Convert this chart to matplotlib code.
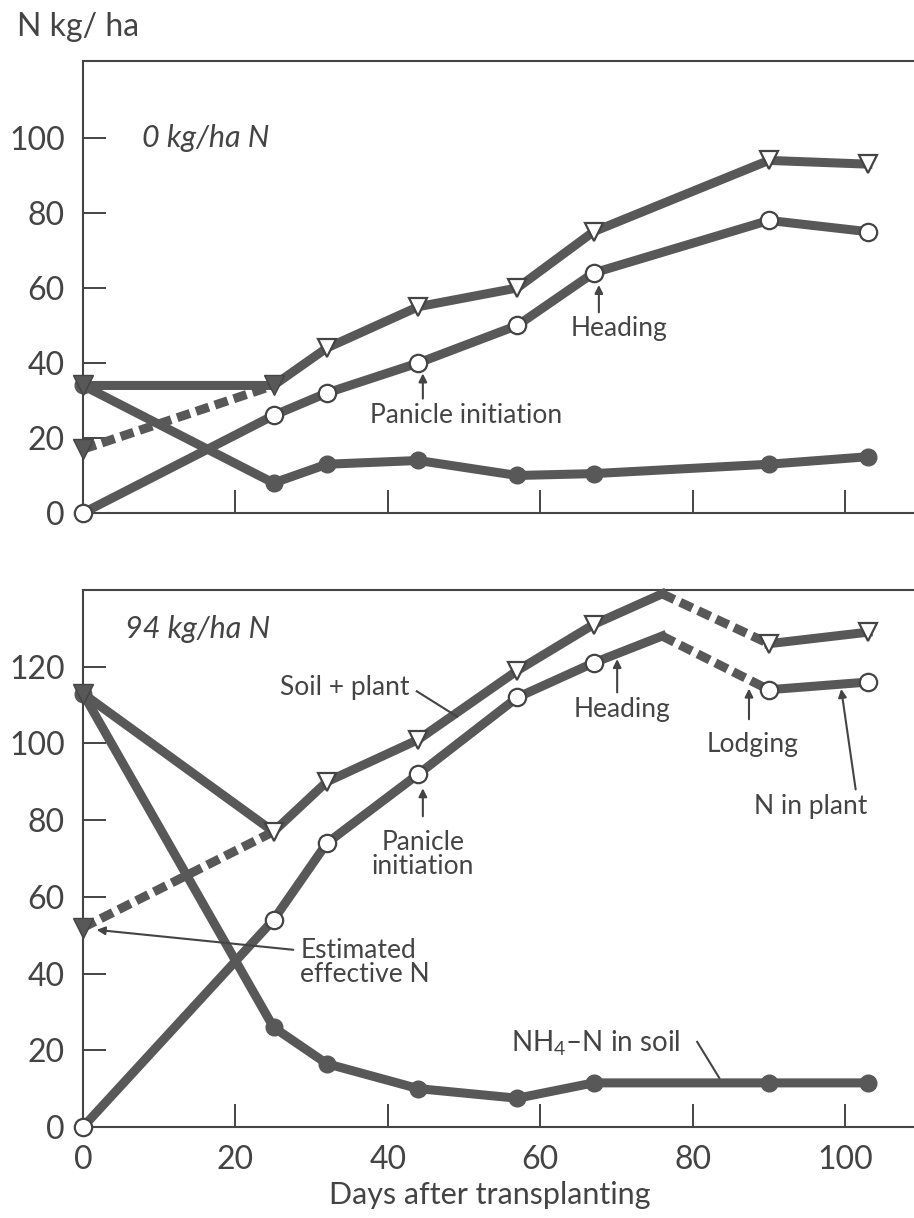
import numpy as np
import matplotlib
matplotlib.use("Agg")
import matplotlib.pyplot as plt

plt.rcParams['font.family'] = ['Lato', 'DejaVu Sans']
plt.rcParams['mathtext.fontset'] = 'custom'
plt.rcParams['mathtext.rm'] = 'Lato'
plt.rcParams['mathtext.it'] = 'Lato:italic'

# sampling days (days after transplanting)
days = [0, 25, 32, 44, 57, 67, 90, 103]

# 0 kg/ha N
top_total = [34, 34, 44, 55, 60, 75, 94, 93]      # soil + plant
top_plant = [0, 26, 32, 40, 50, 64, 78, 75]       # N in plant
top_soil = [34, 8, 13, 14, 10, 10.5, 13, 15]      # NH4-N in soil
top_eff_days = [0, 25]
top_eff = [17, 34]                                # estimated effective N

# 94 kg/ha N
bot_total = [113, 77, 90, 101, 119, 131, 126, 129]
bot_plant = [0, 54, 74, 92, 112, 121, 114, 116]
bot_soil = [113, 26, 16.5, 10, 7.5, 11.5, 11.5, 11.5]
bot_eff_days = [0, 25]
bot_eff = [52, 77]
peak_day = 76
bot_total_peak = 139
bot_plant_peak = 128

ink = '#444444'
lc = '#585858'
lw = 6.5
dash = (1.5, 0.7)

W, H = 914, 1218
fig = plt.figure(figsize=(W / 100, H / 100), dpi=100)
xmax = (914 - 83) / 7.62

ax1 = fig.add_axes([83 / W, 1 - 513 / H, (W - 83) / W, (513 - 61) / H])
ax2 = fig.add_axes([83 / W, 1 - 1127 / H, (W - 83) / W, (1127 - 590) / H])


def style(ax, ymax, yticks, xlabels):
    ax.set_xlim(0, xmax)
    ax.set_ylim(0, ymax)
    for s in ['top', 'left', 'bottom']:
        ax.spines[s].set_color(ink)
        ax.spines[s].set_linewidth(1.5)
    ax.spines['right'].set_visible(False)
    ax.set_yticks(yticks)
    ax.set_xticks([0, 20, 40, 60, 80, 100])
    ax.tick_params(direction='in', length=16.5, width=1.4, color=ink,
                   labelcolor=ink, labelsize=23, pad=13,
                   top=False, right=False)
    if not xlabels:
        ax.tick_params(axis='x', labelbottom=False)


def dashed(ax, x, y):
    line, = ax.plot(x, y, color=lc, lw=lw, clip_on=False, zorder=4)
    line.set_dashes(dash)
    return line


style(ax1, 120.5, [0, 20, 40, 60, 80, 100], False)
style(ax2, 140, [0, 20, 40, 60, 80, 100, 120], True)

# ---- top panel
ax1.plot(days, top_soil, color=lc, lw=lw, marker='o', ms=12, mfc=lc,
         mec=lc, clip_on=False, zorder=3)
ax1.plot(days, top_plant, color=lc, lw=lw, clip_on=False, zorder=3)
ax1.plot(days, top_plant, ls='none', marker='o', ms=12.5, mfc='white',
         mec=ink, mew=1.6, clip_on=False, zorder=5)
ax1.plot(days, top_total, color=lc, lw=lw, clip_on=False, zorder=3)
ax1.plot(days[2:], top_total[2:], ls='none', marker='v', ms=13,
         mfc='white', mec=ink, mew=1.6, clip_on=False, zorder=5)
ax1.plot(days[:2], top_total[:2], ls='none', marker='v', ms=14,
         mfc=lc, mec=ink, clip_on=False, zorder=5)
dashed(ax1, top_eff_days, top_eff)
ax1.plot(top_eff_days[:1], top_eff[:1], ls='none', marker='v', ms=14,
         mfc=lc, mec=ink, clip_on=False, zorder=5)

ax1.text(7.7, 100, '0 kg/ha N', fontsize=22, style='italic', color=ink,
         va='center', ha='left')
arrow = dict(arrowstyle='-|>', color=ink, lw=1.5, mutation_scale=12,
             shrinkA=0, shrinkB=0)
ax1.annotate('', xy=(44.6, 37.2), xytext=(44.6, 30.5), arrowprops=arrow)
ax1.text(37.7, 26, 'Panicle initiation', fontsize=19, color=ink,
         va='center', ha='left')
ax1.annotate('', xy=(67.7, 60.8), xytext=(67.7, 53.5), arrowprops=arrow)
ax1.text(64, 49.3, 'Heading', fontsize=19, color=ink, va='center',
         ha='left')

# ---- bottom panel
ax2.plot(days, bot_soil, color=lc, lw=lw, marker='o', ms=12, mfc=lc,
         mec=lc, clip_on=False, zorder=3)

# plant: solid to peak, dashed after lodging, solid again
ax2.plot(days[:6] + [peak_day], bot_plant[:6] + [bot_plant_peak],
         color=lc, lw=lw, clip_on=False, zorder=3)
dashed(ax2, [peak_day, days[6]], [bot_plant_peak, bot_plant[6]])
ax2.plot(days[6:], bot_plant[6:], color=lc, lw=lw, clip_on=False,
         zorder=3)
ax2.plot(days, bot_plant, ls='none', marker='o', ms=12.5, mfc='white',
         mec=ink, mew=1.6, clip_on=False, zorder=5)

ax2.plot(days[:6] + [peak_day], bot_total[:6] + [bot_total_peak],
         color=lc, lw=lw, clip_on=False, zorder=3)
dashed(ax2, [peak_day, days[6]], [bot_total_peak, bot_total[6]])
ax2.plot(days[6:], bot_total[6:], color=lc, lw=lw, clip_on=False,
         zorder=3)
ax2.plot(days[1:], bot_total[1:], ls='none', marker='v', ms=13,
         mfc='white', mec=ink, mew=1.6, clip_on=False, zorder=5)
ax2.plot(days[:1], bot_total[:1], ls='none', marker='v', ms=14,
         mfc=lc, mec=ink, clip_on=False, zorder=5)

dashed(ax2, bot_eff_days, bot_eff)
ax2.plot(bot_eff_days[:1], bot_eff[:1], ls='none', marker='v', ms=14,
         mfc=lc, mec=ink, clip_on=False, zorder=5)

ax2.text(5.5, 129.8, '94 kg/ha N', fontsize=22, style='italic',
         color=ink, va='center', ha='left')
ax2.text(42.9, 114.6, 'Soil + plant', fontsize=19, color=ink,
         va='center', ha='right')
ax2.plot([43.8, 49.1], [113.6, 107], color=ink, lw=1.5, zorder=6)
ax2.annotate('', xy=(44.6, 88.3), xytext=(44.6, 81), arrowprops=arrow)
ax2.text(44.6, 71, 'Panicle\ninitiation', fontsize=19, color=ink,
         va='center', ha='center', linespacing=0.95)
ax2.annotate('', xy=(70.1, 122), xytext=(70.1, 113.3), arrowprops=arrow)
ax2.text(64.4, 108.9, 'Heading', fontsize=19, color=ink, va='center',
         ha='left')
ax2.annotate('', xy=(87.4, 114.3), xytext=(87.4, 106.3), arrowprops=arrow)
ax2.text(81.9, 99.7, 'Lodging', fontsize=19, color=ink, va='center',
         ha='left')
ax2.annotate('', xy=(99.5, 114.2), xytext=(101.4, 88), arrowprops=arrow)
ax2.text(88, 83.5, 'N in plant', fontsize=19, color=ink, va='center',
         ha='left')
ax2.annotate('', xy=(1.8, 51.4), xytext=(27.6, 46.2), arrowprops=arrow)
ax2.text(28.5, 43, 'Estimated\neffective N', fontsize=19, color=ink,
         va='center', ha='left', linespacing=0.95)
ax2.text(56.2, 21.9, r'NH$_4$–N in soil', fontsize=20, color=ink,
         va='center', ha='left')
ax2.plot([80.6, 83.5], [22.2, 12.8], color=ink, lw=1.5, zorder=6)

fig.text(17 / W, 1 - 27 / H, 'N kg/ ha', fontsize=23, color=ink,
         ha='left', va='center')
fig.text(490 / W, 1 - 1195 / H, 'Days after transplanting', fontsize=22,
         color=ink, ha='center', va='center')

fig.savefig('out.png', dpi=100)
